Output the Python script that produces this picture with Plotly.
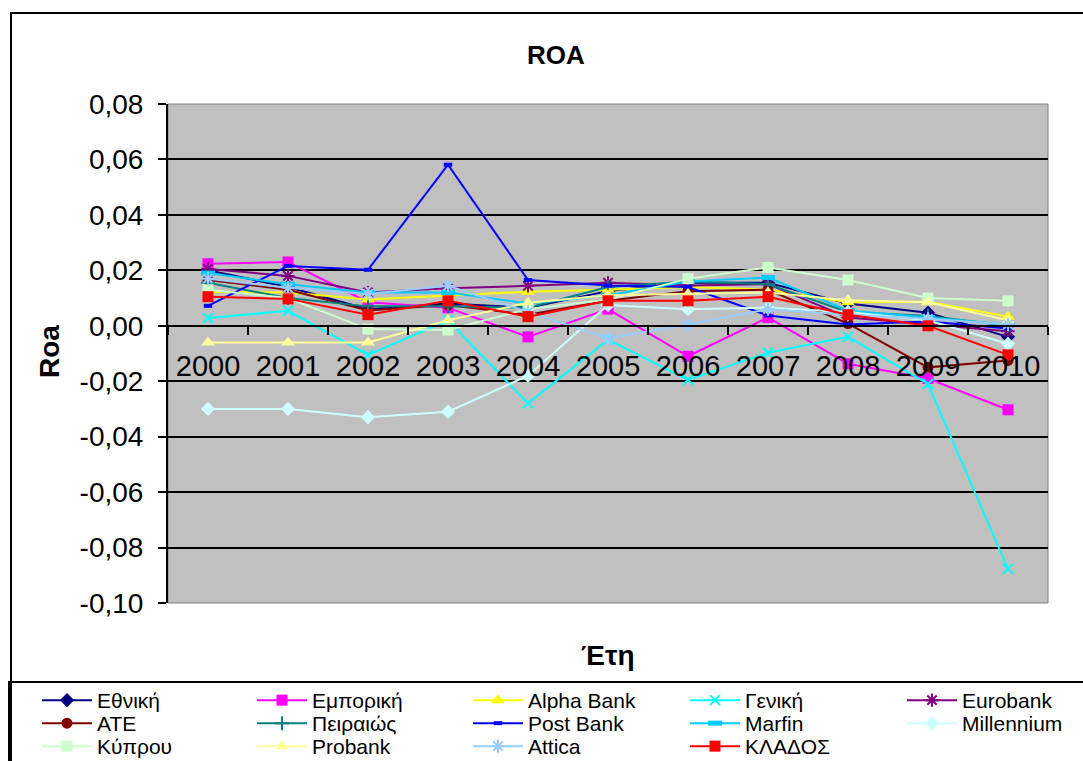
import plotly.graph_objects as go

# Years on the category axis
years = ["2000", "2001", "2002", "2003", "2004", "2005",
         "2006", "2007", "2008", "2009", "2010"]

# ROA per bank and year
ethniki = [0.020, 0.014, 0.006, 0.008, 0.0065, 0.0125, 0.0155, 0.0155, 0.008, 0.0047, -0.004]
emporiki = [0.0224, 0.023, 0.0085, 0.0065, -0.004, 0.006, -0.011, 0.003, -0.0137, -0.019, -0.0303]
alpha_bank = [0.0122, 0.012, 0.0095, 0.011, 0.0123, 0.013, 0.014, 0.013, 0.0085, 0.0087, 0.0033]
geniki = [0.0028, 0.0054, -0.0105, 0.002, -0.028, -0.005, -0.0195, -0.0097, -0.004, -0.021, -0.0877]
eurobank = [0.0205, 0.018, 0.012, 0.0135, 0.0144, 0.0155, 0.0145, 0.015, 0.003, 0.0005, -0.002]
ate = [0.0165, 0.013, 0.0055, 0.0075, 0.004, 0.009, 0.0125, 0.013, 0.0008, -0.015, -0.0125]
peiraios = [0.0155, 0.010, 0.007, 0.007, 0.0065, 0.014, 0.016, 0.015, 0.005, 0.0035, 0.0]
post_bank = [0.0072, 0.0216, 0.0202, 0.0581, 0.0165, 0.0145, 0.014, 0.0037, 0.0005, 0.0015, -0.001]
marfin = [0.019, 0.015, 0.012, 0.012, 0.008, 0.011, 0.016, 0.0174, 0.0055, 0.003, 0.0005]
millennium = [-0.030, -0.030, -0.033, -0.031, -0.018, 0.0075, 0.006, 0.0065, 0.005, 0.002, -0.0065]
kyprou = [0.013, 0.010, -0.0012, -0.0015, 0.006, 0.0095, 0.017, 0.021, 0.0165, 0.010, 0.009]
probank = [-0.006, -0.006, -0.006, 0.002, 0.0083, 0.011, 0.0115, 0.012, 0.0092, 0.0085, 0.002]
attica = [0.017, 0.0137, 0.0115, 0.0144, 0.005, -0.0045, 0.0005, 0.006, 0.004, 0.0025, 0.0005]
kladou = [0.0105, 0.0097, 0.004, 0.009, 0.0033, 0.009, 0.009, 0.0105, 0.004, 0.0, -0.0105]

# Y-axis ticks
y_tick_vals = [0.08, 0.06, 0.04, 0.02, 0.0, -0.02, -0.04, -0.06, -0.08, -0.10]
y_tick_text = ["0,08", "0,06", "0,04", "0,02", "0,00", "-0,02", "-0,04", "-0,06", "-0,08", "-0,10"]

series = [
    ("Εθνική", ethniki, "#000080", dict(symbol="diamond", size=11)),
    ("Εμπορική", emporiki, "#FF00FF", dict(symbol="square", size=11)),
    ("Alpha Bank", alpha_bank, "#FFFF00", dict(symbol="triangle-up", size=12)),
    ("Γενική", geniki, "#00FFFF", dict(symbol="x-thin-open", size=10, line=dict(width=2, color="#00FFFF"))),
    ("Eurobank", eurobank, "#800080", dict(symbol="asterisk-open", size=11, line=dict(width=2, color="#800080"))),
    ("ATE", ate, "#800000", dict(symbol="circle", size=11)),
    ("Πειραιώς", peiraios, "#008080", dict(symbol="cross-thin-open", size=10, line=dict(width=2, color="#008080"))),
    ("Post Bank", post_bank, "#0000FF", dict(symbol="line-ew-open", size=6, line=dict(width=4, color="#0000FF"))),
    ("Marfin", marfin, "#00CCFF", dict(symbol="line-ew-open", size=10, line=dict(width=5, color="#00CCFF"))),
    ("Millennium", millennium, "#CCFFFF", dict(symbol="diamond", size=11)),
    ("Κύπρου", kyprou, "#CCFFCC", dict(symbol="square", size=11)),
    ("Probank", probank, "#FFFF99", dict(symbol="triangle-up", size=12)),
    ("Attica", attica, "#99CCFF", dict(symbol="asterisk-open", size=11, line=dict(width=2, color="#99CCFF"))),
    ("ΚΛΑΔΟΣ", kladou, "#FF0000", dict(symbol="square", size=11)),
]

W, H = 1083, 761
L, R, T, B = 168, 1048, 104, 603


def px(x):
    return (x - L) / (R - L)


def py(y):
    return (B - y) / (B - T)


# legend grid: five columns, entries filled row by row, one legend per entry
legend_cols = 5
legend_col_x = [37, 252, 468, 685, 902]
legend_row_top = [680, 703, 726]

fig = go.Figure()
legends = {}
for i, (name, vals, color, marker) in enumerate(series):
    m = dict(color=color)
    m.update(marker)
    key = "legend" if i == 0 else f"legend{i + 1}"
    fig.add_trace(go.Scatter(
        x=years, y=vals, name=name, mode="lines+markers",
        line=dict(color=color, width=2), marker=m, legend=key,
    ))
    row, col = divmod(i, legend_cols)
    legends[key] = dict(
        orientation="v", yanchor="top", xanchor="left",
        x=px(legend_col_x[col]), y=py(legend_row_top[row]),
        itemwidth=50, font=dict(size=21), bgcolor="rgba(0,0,0,0)",
        itemclick=False, itemdoubleclick=False,
    )

zero_pos = (0 - (-0.10)) / (0.08 - (-0.10))

fig.update_layout(
    width=W, height=H,
    margin=dict(l=L, r=W - R, t=T, b=H - B, autoexpand=False),
    paper_bgcolor="white",
    plot_bgcolor="#C0C0C0",
    font=dict(family="Liberation Sans, Arial, sans-serif", color="black"),
    showlegend=True,
    xaxis=dict(
        type="category", range=[-0.5, 10.5], anchor="free", position=zero_pos,
        showline=True, linecolor="black", linewidth=2,
        ticks="outside", tickson="boundaries", ticklen=8, tickcolor="black", tickwidth=2,
        tickfont=dict(size=29), ticklabelstandoff=14, showgrid=False, zeroline=False,
    ),
    yaxis=dict(
        range=[-0.10, 0.08], tickvals=y_tick_vals, ticktext=y_tick_text,
        showline=True, linecolor="black", linewidth=2,
        ticks="outside", ticklen=8, tickcolor="black", tickwidth=2,
        tickfont=dict(size=28), ticklabelstandoff=9,
        showgrid=True, gridcolor="black", gridwidth=2, zeroline=False,
    ),
    shapes=[
        # plot area frame
        dict(type="rect", xref="paper", yref="paper", x0=0, x1=1, y0=0, y1=1,
             line=dict(color="#808080", width=1), layer="below"),
        # outer chart border
        dict(type="rect", xref="paper", yref="paper", x0=px(11), x1=px(1090),
             y0=py(770), y1=py(13), line=dict(color="black", width=2)),
        # legend box
        dict(type="rect", xref="paper", yref="paper", x0=px(9), x1=px(1090),
             y0=py(770), y1=py(682), line=dict(color="black", width=2)),
    ],
    annotations=[
        dict(text="<b>ROA</b>", xref="paper", yref="paper", x=px(556), y=py(55),
             xanchor="center", yanchor="middle", showarrow=False, font=dict(size=26)),
        dict(text="<b>Roa</b>", xref="paper", yref="paper", x=px(49), y=py(352),
             xanchor="center", yanchor="middle", showarrow=False, textangle=-90,
             font=dict(size=28)),
        dict(text="<b>Έτη</b>", xref="paper", yref="paper", x=px(607), y=py(655),
             xanchor="center", yanchor="middle", showarrow=False, font=dict(size=28)),
    ],
    **legends,
)

fig.write_html("out.html")
